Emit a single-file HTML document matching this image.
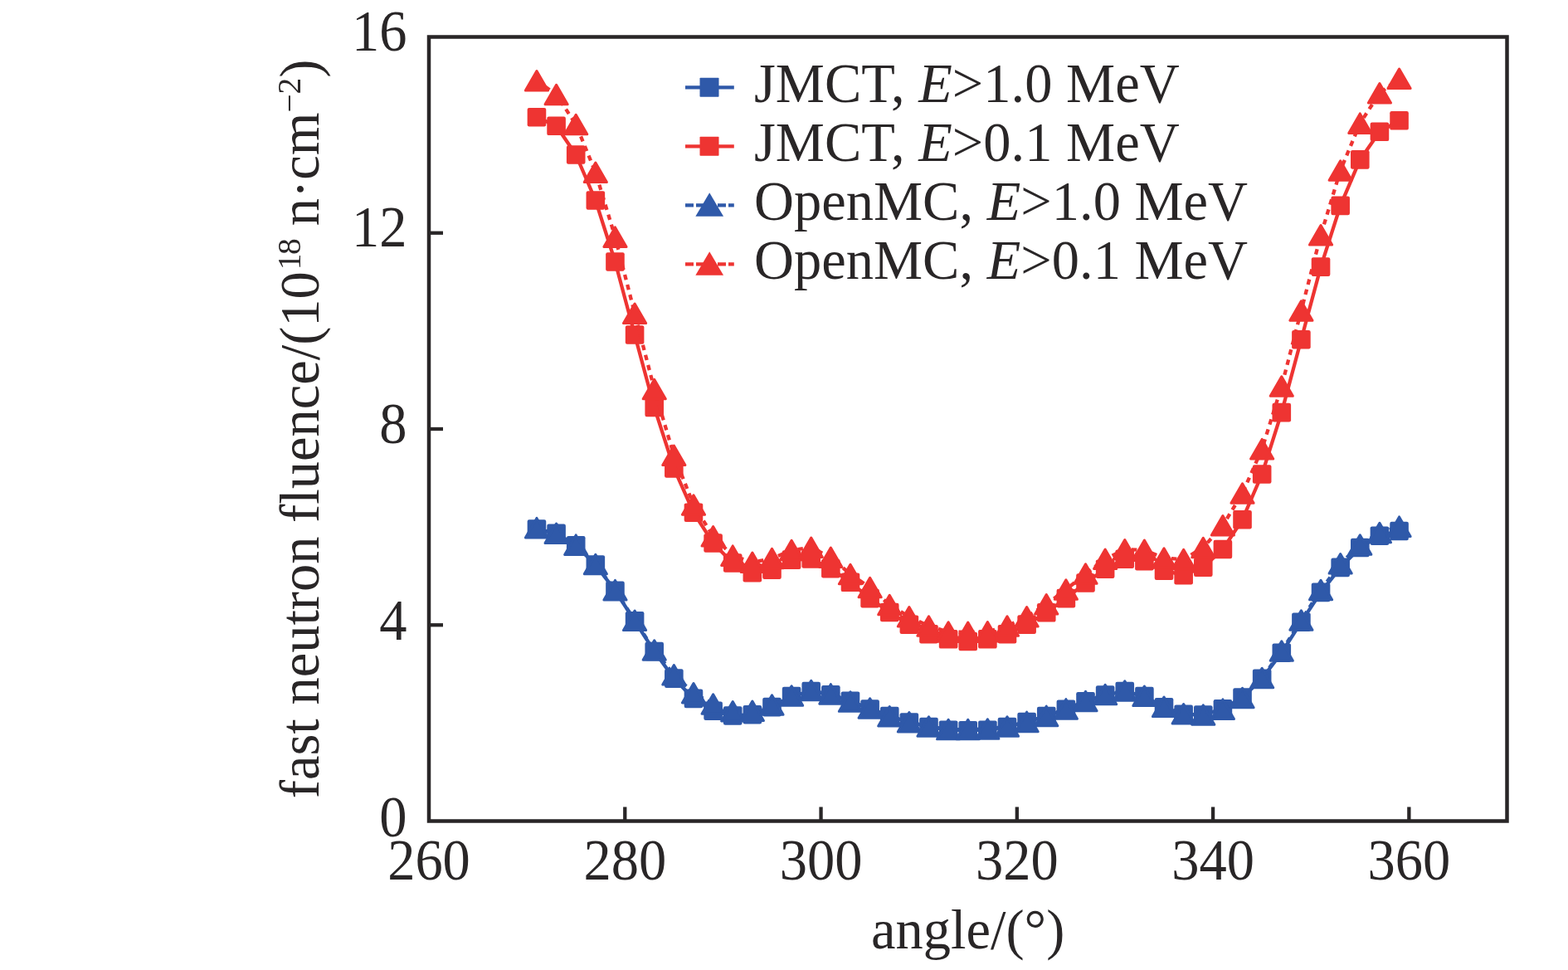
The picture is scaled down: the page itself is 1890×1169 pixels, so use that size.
<!DOCTYPE html>
<html><head><meta charset="utf-8"><title>fast neutron fluence vs angle</title>
<style>
html,body{margin:0;padding:0;background:#fff;}
body{width:1890px;height:1169px;overflow:hidden;}
svg{display:block;}
text{font-family:"Liberation Serif","Times New Roman",serif;fill:#292627;}
</style></head><body>
<svg width="1890" height="1169" viewBox="0 0 1890 1169">
<rect width="1890" height="1169" fill="#fff"/>
<g id="data">
<polyline points="646.95,637.50 670.58,642.80 694.20,657.30 717.83,680.60 741.46,711.80 765.09,748.40 788.71,785.00 812.34,817.60 835.97,841.90 859.60,856.70 883.22,862.50 906.85,861.20 930.48,852.10 954.10,839.00 977.73,833.00 1001.36,837.40 1024.99,844.70 1048.61,854.60 1072.24,863.00 1095.87,870.50 1119.50,876.00 1143.12,879.70 1166.75,880.20 1190.38,879.70 1214.00,876.00 1237.63,870.10 1261.26,863.00 1284.89,854.80 1308.51,845.30 1332.14,837.60 1355.77,833.10 1379.40,839.00 1403.02,852.40 1426.65,860.90 1450.28,861.50 1473.90,854.30 1497.53,840.60 1521.16,817.80 1544.79,786.70 1568.41,749.70 1592.04,713.90 1615.67,683.90 1639.30,660.00 1662.92,645.70 1686.55,640.00" fill="none" stroke="#2f59a9" stroke-width="4.3" stroke-linejoin="round"/>
<rect x="635.65" y="626.20" width="22.60" height="22.60" rx="2.2" fill="#2f59a9"/>
<rect x="659.28" y="631.50" width="22.60" height="22.60" rx="2.2" fill="#2f59a9"/>
<rect x="682.90" y="646.00" width="22.60" height="22.60" rx="2.2" fill="#2f59a9"/>
<rect x="706.53" y="669.30" width="22.60" height="22.60" rx="2.2" fill="#2f59a9"/>
<rect x="730.16" y="700.50" width="22.60" height="22.60" rx="2.2" fill="#2f59a9"/>
<rect x="753.79" y="737.10" width="22.60" height="22.60" rx="2.2" fill="#2f59a9"/>
<rect x="777.41" y="773.70" width="22.60" height="22.60" rx="2.2" fill="#2f59a9"/>
<rect x="801.04" y="806.30" width="22.60" height="22.60" rx="2.2" fill="#2f59a9"/>
<rect x="824.67" y="830.60" width="22.60" height="22.60" rx="2.2" fill="#2f59a9"/>
<rect x="848.30" y="845.40" width="22.60" height="22.60" rx="2.2" fill="#2f59a9"/>
<rect x="871.92" y="851.20" width="22.60" height="22.60" rx="2.2" fill="#2f59a9"/>
<rect x="895.55" y="849.90" width="22.60" height="22.60" rx="2.2" fill="#2f59a9"/>
<rect x="919.18" y="840.80" width="22.60" height="22.60" rx="2.2" fill="#2f59a9"/>
<rect x="942.80" y="827.70" width="22.60" height="22.60" rx="2.2" fill="#2f59a9"/>
<rect x="966.43" y="821.70" width="22.60" height="22.60" rx="2.2" fill="#2f59a9"/>
<rect x="990.06" y="826.10" width="22.60" height="22.60" rx="2.2" fill="#2f59a9"/>
<rect x="1013.69" y="833.40" width="22.60" height="22.60" rx="2.2" fill="#2f59a9"/>
<rect x="1037.31" y="843.30" width="22.60" height="22.60" rx="2.2" fill="#2f59a9"/>
<rect x="1060.94" y="851.70" width="22.60" height="22.60" rx="2.2" fill="#2f59a9"/>
<rect x="1084.57" y="859.20" width="22.60" height="22.60" rx="2.2" fill="#2f59a9"/>
<rect x="1108.20" y="864.70" width="22.60" height="22.60" rx="2.2" fill="#2f59a9"/>
<rect x="1131.82" y="868.40" width="22.60" height="22.60" rx="2.2" fill="#2f59a9"/>
<rect x="1155.45" y="868.90" width="22.60" height="22.60" rx="2.2" fill="#2f59a9"/>
<rect x="1179.08" y="868.40" width="22.60" height="22.60" rx="2.2" fill="#2f59a9"/>
<rect x="1202.70" y="864.70" width="22.60" height="22.60" rx="2.2" fill="#2f59a9"/>
<rect x="1226.33" y="858.80" width="22.60" height="22.60" rx="2.2" fill="#2f59a9"/>
<rect x="1249.96" y="851.70" width="22.60" height="22.60" rx="2.2" fill="#2f59a9"/>
<rect x="1273.59" y="843.50" width="22.60" height="22.60" rx="2.2" fill="#2f59a9"/>
<rect x="1297.21" y="834.00" width="22.60" height="22.60" rx="2.2" fill="#2f59a9"/>
<rect x="1320.84" y="826.30" width="22.60" height="22.60" rx="2.2" fill="#2f59a9"/>
<rect x="1344.47" y="821.80" width="22.60" height="22.60" rx="2.2" fill="#2f59a9"/>
<rect x="1368.10" y="827.70" width="22.60" height="22.60" rx="2.2" fill="#2f59a9"/>
<rect x="1391.72" y="841.10" width="22.60" height="22.60" rx="2.2" fill="#2f59a9"/>
<rect x="1415.35" y="849.60" width="22.60" height="22.60" rx="2.2" fill="#2f59a9"/>
<rect x="1438.98" y="850.20" width="22.60" height="22.60" rx="2.2" fill="#2f59a9"/>
<rect x="1462.60" y="843.00" width="22.60" height="22.60" rx="2.2" fill="#2f59a9"/>
<rect x="1486.23" y="829.30" width="22.60" height="22.60" rx="2.2" fill="#2f59a9"/>
<rect x="1509.86" y="806.50" width="22.60" height="22.60" rx="2.2" fill="#2f59a9"/>
<rect x="1533.49" y="775.40" width="22.60" height="22.60" rx="2.2" fill="#2f59a9"/>
<rect x="1557.11" y="738.40" width="22.60" height="22.60" rx="2.2" fill="#2f59a9"/>
<rect x="1580.74" y="702.60" width="22.60" height="22.60" rx="2.2" fill="#2f59a9"/>
<rect x="1604.37" y="672.60" width="22.60" height="22.60" rx="2.2" fill="#2f59a9"/>
<rect x="1628.00" y="648.70" width="22.60" height="22.60" rx="2.2" fill="#2f59a9"/>
<rect x="1651.62" y="634.40" width="22.60" height="22.60" rx="2.2" fill="#2f59a9"/>
<rect x="1675.25" y="628.70" width="22.60" height="22.60" rx="2.2" fill="#2f59a9"/>
<polyline points="646.95,141.20 670.58,151.80 694.20,186.50 717.83,241.50 741.46,315.50 765.09,403.50 788.71,491.00 812.34,564.40 835.97,617.70 859.60,654.50 883.22,678.50 906.85,690.10 930.48,686.70 954.10,674.60 977.73,673.40 1001.36,685.20 1024.99,701.80 1048.61,721.10 1072.24,738.00 1095.87,752.70 1119.50,764.20 1143.12,770.30 1166.75,773.00 1190.38,770.30 1214.00,764.20 1237.63,752.60 1261.26,738.30 1284.89,721.10 1308.51,702.50 1332.14,685.70 1355.77,673.70 1379.40,676.20 1403.02,687.70 1426.65,693.10 1450.28,683.70 1473.90,662.00 1497.53,626.20 1521.16,571.50 1544.79,497.10 1568.41,409.20 1592.04,321.60 1615.67,247.90 1639.30,192.40 1662.92,158.80 1686.55,145.30" fill="none" stroke="#ee3432" stroke-width="4.3" stroke-linejoin="round"/>
<rect x="635.65" y="129.90" width="22.60" height="22.60" rx="2.2" fill="#ee3432"/>
<rect x="659.28" y="140.50" width="22.60" height="22.60" rx="2.2" fill="#ee3432"/>
<rect x="682.90" y="175.20" width="22.60" height="22.60" rx="2.2" fill="#ee3432"/>
<rect x="706.53" y="230.20" width="22.60" height="22.60" rx="2.2" fill="#ee3432"/>
<rect x="730.16" y="304.20" width="22.60" height="22.60" rx="2.2" fill="#ee3432"/>
<rect x="753.79" y="392.20" width="22.60" height="22.60" rx="2.2" fill="#ee3432"/>
<rect x="777.41" y="479.70" width="22.60" height="22.60" rx="2.2" fill="#ee3432"/>
<rect x="801.04" y="553.10" width="22.60" height="22.60" rx="2.2" fill="#ee3432"/>
<rect x="824.67" y="606.40" width="22.60" height="22.60" rx="2.2" fill="#ee3432"/>
<rect x="848.30" y="643.20" width="22.60" height="22.60" rx="2.2" fill="#ee3432"/>
<rect x="871.92" y="667.20" width="22.60" height="22.60" rx="2.2" fill="#ee3432"/>
<rect x="895.55" y="678.80" width="22.60" height="22.60" rx="2.2" fill="#ee3432"/>
<rect x="919.18" y="675.40" width="22.60" height="22.60" rx="2.2" fill="#ee3432"/>
<rect x="942.80" y="663.30" width="22.60" height="22.60" rx="2.2" fill="#ee3432"/>
<rect x="966.43" y="662.10" width="22.60" height="22.60" rx="2.2" fill="#ee3432"/>
<rect x="990.06" y="673.90" width="22.60" height="22.60" rx="2.2" fill="#ee3432"/>
<rect x="1013.69" y="690.50" width="22.60" height="22.60" rx="2.2" fill="#ee3432"/>
<rect x="1037.31" y="709.80" width="22.60" height="22.60" rx="2.2" fill="#ee3432"/>
<rect x="1060.94" y="726.70" width="22.60" height="22.60" rx="2.2" fill="#ee3432"/>
<rect x="1084.57" y="741.40" width="22.60" height="22.60" rx="2.2" fill="#ee3432"/>
<rect x="1108.20" y="752.90" width="22.60" height="22.60" rx="2.2" fill="#ee3432"/>
<rect x="1131.82" y="759.00" width="22.60" height="22.60" rx="2.2" fill="#ee3432"/>
<rect x="1155.45" y="761.70" width="22.60" height="22.60" rx="2.2" fill="#ee3432"/>
<rect x="1179.08" y="759.00" width="22.60" height="22.60" rx="2.2" fill="#ee3432"/>
<rect x="1202.70" y="752.90" width="22.60" height="22.60" rx="2.2" fill="#ee3432"/>
<rect x="1226.33" y="741.30" width="22.60" height="22.60" rx="2.2" fill="#ee3432"/>
<rect x="1249.96" y="727.00" width="22.60" height="22.60" rx="2.2" fill="#ee3432"/>
<rect x="1273.59" y="709.80" width="22.60" height="22.60" rx="2.2" fill="#ee3432"/>
<rect x="1297.21" y="691.20" width="22.60" height="22.60" rx="2.2" fill="#ee3432"/>
<rect x="1320.84" y="674.40" width="22.60" height="22.60" rx="2.2" fill="#ee3432"/>
<rect x="1344.47" y="662.40" width="22.60" height="22.60" rx="2.2" fill="#ee3432"/>
<rect x="1368.10" y="664.90" width="22.60" height="22.60" rx="2.2" fill="#ee3432"/>
<rect x="1391.72" y="676.40" width="22.60" height="22.60" rx="2.2" fill="#ee3432"/>
<rect x="1415.35" y="681.80" width="22.60" height="22.60" rx="2.2" fill="#ee3432"/>
<rect x="1438.98" y="672.40" width="22.60" height="22.60" rx="2.2" fill="#ee3432"/>
<rect x="1462.60" y="650.70" width="22.60" height="22.60" rx="2.2" fill="#ee3432"/>
<rect x="1486.23" y="614.90" width="22.60" height="22.60" rx="2.2" fill="#ee3432"/>
<rect x="1509.86" y="560.20" width="22.60" height="22.60" rx="2.2" fill="#ee3432"/>
<rect x="1533.49" y="485.80" width="22.60" height="22.60" rx="2.2" fill="#ee3432"/>
<rect x="1557.11" y="397.90" width="22.60" height="22.60" rx="2.2" fill="#ee3432"/>
<rect x="1580.74" y="310.30" width="22.60" height="22.60" rx="2.2" fill="#ee3432"/>
<rect x="1604.37" y="236.60" width="22.60" height="22.60" rx="2.2" fill="#ee3432"/>
<rect x="1628.00" y="181.10" width="22.60" height="22.60" rx="2.2" fill="#ee3432"/>
<rect x="1651.62" y="147.50" width="22.60" height="22.60" rx="2.2" fill="#ee3432"/>
<rect x="1675.25" y="134.00" width="22.60" height="22.60" rx="2.2" fill="#ee3432"/>
<polyline points="646.95,636.15 670.58,642.85 694.20,656.65 717.83,680.00 741.46,711.15 765.09,747.85 788.71,783.45 812.34,813.35 835.97,835.20 859.60,848.50 883.22,857.30 906.85,856.80 930.48,849.50 954.10,838.50 977.73,832.10 1001.36,836.40 1024.99,845.60 1048.61,853.50 1072.24,863.20 1095.87,870.20 1119.50,875.50 1143.12,879.10 1166.75,879.10 1190.38,878.50 1214.00,875.50 1237.63,869.90 1261.26,862.90 1284.89,854.40 1308.51,845.10 1332.14,837.10 1355.77,832.60 1379.40,838.85 1403.02,851.85 1426.65,860.25 1450.28,861.50 1473.90,854.65 1497.53,840.95 1521.16,816.95 1544.79,784.50 1568.41,747.55 1592.04,710.95 1615.67,679.35 1639.30,656.55 1662.92,641.95 1686.55,634.65" fill="none" stroke="#2f59a9" stroke-width="4.3" stroke-linejoin="round" stroke-dasharray="6.5 6"/>
<polygon points="646.95,624.40 633.38,647.90 660.52,647.90" fill="#2f59a9" stroke="#2f59a9" stroke-width="3.0" stroke-linejoin="round"/>
<polygon points="670.58,631.10 657.01,654.60 684.15,654.60" fill="#2f59a9" stroke="#2f59a9" stroke-width="3.0" stroke-linejoin="round"/>
<polygon points="694.20,644.90 680.64,668.40 707.77,668.40" fill="#2f59a9" stroke="#2f59a9" stroke-width="3.0" stroke-linejoin="round"/>
<polygon points="717.83,668.25 704.26,691.75 731.40,691.75" fill="#2f59a9" stroke="#2f59a9" stroke-width="3.0" stroke-linejoin="round"/>
<polygon points="741.46,699.40 727.89,722.90 755.03,722.90" fill="#2f59a9" stroke="#2f59a9" stroke-width="3.0" stroke-linejoin="round"/>
<polygon points="765.09,736.10 751.52,759.60 778.65,759.60" fill="#2f59a9" stroke="#2f59a9" stroke-width="3.0" stroke-linejoin="round"/>
<polygon points="788.71,771.70 775.15,795.20 802.28,795.20" fill="#2f59a9" stroke="#2f59a9" stroke-width="3.0" stroke-linejoin="round"/>
<polygon points="812.34,801.60 798.77,825.10 825.91,825.10" fill="#2f59a9" stroke="#2f59a9" stroke-width="3.0" stroke-linejoin="round"/>
<polygon points="835.97,823.45 822.40,846.95 849.54,846.95" fill="#2f59a9" stroke="#2f59a9" stroke-width="3.0" stroke-linejoin="round"/>
<polygon points="859.60,836.75 846.03,860.25 873.16,860.25" fill="#2f59a9" stroke="#2f59a9" stroke-width="3.0" stroke-linejoin="round"/>
<polygon points="883.22,845.55 869.65,869.05 896.79,869.05" fill="#2f59a9" stroke="#2f59a9" stroke-width="3.0" stroke-linejoin="round"/>
<polygon points="906.85,845.05 893.28,868.55 920.42,868.55" fill="#2f59a9" stroke="#2f59a9" stroke-width="3.0" stroke-linejoin="round"/>
<polygon points="930.48,837.75 916.91,861.25 944.05,861.25" fill="#2f59a9" stroke="#2f59a9" stroke-width="3.0" stroke-linejoin="round"/>
<polygon points="954.10,826.75 940.54,850.25 967.67,850.25" fill="#2f59a9" stroke="#2f59a9" stroke-width="3.0" stroke-linejoin="round"/>
<polygon points="977.73,820.35 964.16,843.85 991.30,843.85" fill="#2f59a9" stroke="#2f59a9" stroke-width="3.0" stroke-linejoin="round"/>
<polygon points="1001.36,824.65 987.79,848.15 1014.93,848.15" fill="#2f59a9" stroke="#2f59a9" stroke-width="3.0" stroke-linejoin="round"/>
<polygon points="1024.99,833.85 1011.42,857.35 1038.55,857.35" fill="#2f59a9" stroke="#2f59a9" stroke-width="3.0" stroke-linejoin="round"/>
<polygon points="1048.61,841.75 1035.05,865.25 1062.18,865.25" fill="#2f59a9" stroke="#2f59a9" stroke-width="3.0" stroke-linejoin="round"/>
<polygon points="1072.24,851.45 1058.67,874.95 1085.81,874.95" fill="#2f59a9" stroke="#2f59a9" stroke-width="3.0" stroke-linejoin="round"/>
<polygon points="1095.87,858.45 1082.30,881.95 1109.44,881.95" fill="#2f59a9" stroke="#2f59a9" stroke-width="3.0" stroke-linejoin="round"/>
<polygon points="1119.50,863.75 1105.93,887.25 1133.06,887.25" fill="#2f59a9" stroke="#2f59a9" stroke-width="3.0" stroke-linejoin="round"/>
<polygon points="1143.12,867.35 1129.55,890.85 1156.69,890.85" fill="#2f59a9" stroke="#2f59a9" stroke-width="3.0" stroke-linejoin="round"/>
<polygon points="1166.75,867.35 1153.18,890.85 1180.32,890.85" fill="#2f59a9" stroke="#2f59a9" stroke-width="3.0" stroke-linejoin="round"/>
<polygon points="1190.38,866.75 1176.81,890.25 1203.95,890.25" fill="#2f59a9" stroke="#2f59a9" stroke-width="3.0" stroke-linejoin="round"/>
<polygon points="1214.00,863.75 1200.44,887.25 1227.57,887.25" fill="#2f59a9" stroke="#2f59a9" stroke-width="3.0" stroke-linejoin="round"/>
<polygon points="1237.63,858.15 1224.06,881.65 1251.20,881.65" fill="#2f59a9" stroke="#2f59a9" stroke-width="3.0" stroke-linejoin="round"/>
<polygon points="1261.26,851.15 1247.69,874.65 1274.83,874.65" fill="#2f59a9" stroke="#2f59a9" stroke-width="3.0" stroke-linejoin="round"/>
<polygon points="1284.89,842.65 1271.32,866.15 1298.45,866.15" fill="#2f59a9" stroke="#2f59a9" stroke-width="3.0" stroke-linejoin="round"/>
<polygon points="1308.51,833.35 1294.95,856.85 1322.08,856.85" fill="#2f59a9" stroke="#2f59a9" stroke-width="3.0" stroke-linejoin="round"/>
<polygon points="1332.14,825.35 1318.57,848.85 1345.71,848.85" fill="#2f59a9" stroke="#2f59a9" stroke-width="3.0" stroke-linejoin="round"/>
<polygon points="1355.77,820.85 1342.20,844.35 1369.34,844.35" fill="#2f59a9" stroke="#2f59a9" stroke-width="3.0" stroke-linejoin="round"/>
<polygon points="1379.40,827.10 1365.83,850.60 1392.96,850.60" fill="#2f59a9" stroke="#2f59a9" stroke-width="3.0" stroke-linejoin="round"/>
<polygon points="1403.02,840.10 1389.45,863.60 1416.59,863.60" fill="#2f59a9" stroke="#2f59a9" stroke-width="3.0" stroke-linejoin="round"/>
<polygon points="1426.65,848.50 1413.08,872.00 1440.22,872.00" fill="#2f59a9" stroke="#2f59a9" stroke-width="3.0" stroke-linejoin="round"/>
<polygon points="1450.28,849.75 1436.71,873.25 1463.85,873.25" fill="#2f59a9" stroke="#2f59a9" stroke-width="3.0" stroke-linejoin="round"/>
<polygon points="1473.90,842.90 1460.34,866.40 1487.47,866.40" fill="#2f59a9" stroke="#2f59a9" stroke-width="3.0" stroke-linejoin="round"/>
<polygon points="1497.53,829.20 1483.96,852.70 1511.10,852.70" fill="#2f59a9" stroke="#2f59a9" stroke-width="3.0" stroke-linejoin="round"/>
<polygon points="1521.16,805.20 1507.59,828.70 1534.73,828.70" fill="#2f59a9" stroke="#2f59a9" stroke-width="3.0" stroke-linejoin="round"/>
<polygon points="1544.79,772.75 1531.22,796.25 1558.35,796.25" fill="#2f59a9" stroke="#2f59a9" stroke-width="3.0" stroke-linejoin="round"/>
<polygon points="1568.41,735.80 1554.85,759.30 1581.98,759.30" fill="#2f59a9" stroke="#2f59a9" stroke-width="3.0" stroke-linejoin="round"/>
<polygon points="1592.04,699.20 1578.47,722.70 1605.61,722.70" fill="#2f59a9" stroke="#2f59a9" stroke-width="3.0" stroke-linejoin="round"/>
<polygon points="1615.67,667.60 1602.10,691.10 1629.24,691.10" fill="#2f59a9" stroke="#2f59a9" stroke-width="3.0" stroke-linejoin="round"/>
<polygon points="1639.30,644.80 1625.73,668.30 1652.86,668.30" fill="#2f59a9" stroke="#2f59a9" stroke-width="3.0" stroke-linejoin="round"/>
<polygon points="1662.92,630.20 1649.35,653.70 1676.49,653.70" fill="#2f59a9" stroke="#2f59a9" stroke-width="3.0" stroke-linejoin="round"/>
<polygon points="1686.55,622.90 1672.98,646.40 1700.12,646.40" fill="#2f59a9" stroke="#2f59a9" stroke-width="3.0" stroke-linejoin="round"/>
<polyline points="646.95,97.35 670.58,114.05 694.20,149.95 717.83,207.85 741.46,285.65 765.09,377.75 788.71,469.05 812.34,548.85 835.97,608.45 859.60,646.25 883.22,669.65 906.85,677.85 930.48,673.05 954.10,663.05 977.73,659.75 1001.36,671.75 1024.99,692.05 1048.61,707.95 1072.24,729.05 1095.87,743.25 1119.50,754.55 1143.12,761.45 1166.75,761.75 1190.38,761.35 1214.00,754.55 1237.63,743.35 1261.26,728.25 1284.89,710.55 1308.51,691.55 1332.14,673.75 1355.77,662.25 1379.40,662.85 1403.02,672.55 1426.65,674.05 1450.28,659.95 1473.90,633.25 1497.53,594.55 1521.16,541.15 1544.79,465.55 1568.41,374.55 1592.04,283.35 1615.67,205.45 1639.30,148.65 1662.92,112.25 1686.55,94.85" fill="none" stroke="#ee3432" stroke-width="4.3" stroke-linejoin="round" stroke-dasharray="6.5 6"/>
<polygon points="646.95,85.60 633.38,109.10 660.52,109.10" fill="#ee3432" stroke="#ee3432" stroke-width="3.0" stroke-linejoin="round"/>
<polygon points="670.58,102.30 657.01,125.80 684.15,125.80" fill="#ee3432" stroke="#ee3432" stroke-width="3.0" stroke-linejoin="round"/>
<polygon points="694.20,138.20 680.64,161.70 707.77,161.70" fill="#ee3432" stroke="#ee3432" stroke-width="3.0" stroke-linejoin="round"/>
<polygon points="717.83,196.10 704.26,219.60 731.40,219.60" fill="#ee3432" stroke="#ee3432" stroke-width="3.0" stroke-linejoin="round"/>
<polygon points="741.46,273.90 727.89,297.40 755.03,297.40" fill="#ee3432" stroke="#ee3432" stroke-width="3.0" stroke-linejoin="round"/>
<polygon points="765.09,366.00 751.52,389.50 778.65,389.50" fill="#ee3432" stroke="#ee3432" stroke-width="3.0" stroke-linejoin="round"/>
<polygon points="788.71,457.30 775.15,480.80 802.28,480.80" fill="#ee3432" stroke="#ee3432" stroke-width="3.0" stroke-linejoin="round"/>
<polygon points="812.34,537.10 798.77,560.60 825.91,560.60" fill="#ee3432" stroke="#ee3432" stroke-width="3.0" stroke-linejoin="round"/>
<polygon points="835.97,596.70 822.40,620.20 849.54,620.20" fill="#ee3432" stroke="#ee3432" stroke-width="3.0" stroke-linejoin="round"/>
<polygon points="859.60,634.50 846.03,658.00 873.16,658.00" fill="#ee3432" stroke="#ee3432" stroke-width="3.0" stroke-linejoin="round"/>
<polygon points="883.22,657.90 869.65,681.40 896.79,681.40" fill="#ee3432" stroke="#ee3432" stroke-width="3.0" stroke-linejoin="round"/>
<polygon points="906.85,666.10 893.28,689.60 920.42,689.60" fill="#ee3432" stroke="#ee3432" stroke-width="3.0" stroke-linejoin="round"/>
<polygon points="930.48,661.30 916.91,684.80 944.05,684.80" fill="#ee3432" stroke="#ee3432" stroke-width="3.0" stroke-linejoin="round"/>
<polygon points="954.10,651.30 940.54,674.80 967.67,674.80" fill="#ee3432" stroke="#ee3432" stroke-width="3.0" stroke-linejoin="round"/>
<polygon points="977.73,648.00 964.16,671.50 991.30,671.50" fill="#ee3432" stroke="#ee3432" stroke-width="3.0" stroke-linejoin="round"/>
<polygon points="1001.36,660.00 987.79,683.50 1014.93,683.50" fill="#ee3432" stroke="#ee3432" stroke-width="3.0" stroke-linejoin="round"/>
<polygon points="1024.99,680.30 1011.42,703.80 1038.55,703.80" fill="#ee3432" stroke="#ee3432" stroke-width="3.0" stroke-linejoin="round"/>
<polygon points="1048.61,696.20 1035.05,719.70 1062.18,719.70" fill="#ee3432" stroke="#ee3432" stroke-width="3.0" stroke-linejoin="round"/>
<polygon points="1072.24,717.30 1058.67,740.80 1085.81,740.80" fill="#ee3432" stroke="#ee3432" stroke-width="3.0" stroke-linejoin="round"/>
<polygon points="1095.87,731.50 1082.30,755.00 1109.44,755.00" fill="#ee3432" stroke="#ee3432" stroke-width="3.0" stroke-linejoin="round"/>
<polygon points="1119.50,742.80 1105.93,766.30 1133.06,766.30" fill="#ee3432" stroke="#ee3432" stroke-width="3.0" stroke-linejoin="round"/>
<polygon points="1143.12,749.70 1129.55,773.20 1156.69,773.20" fill="#ee3432" stroke="#ee3432" stroke-width="3.0" stroke-linejoin="round"/>
<polygon points="1166.75,750.00 1153.18,773.50 1180.32,773.50" fill="#ee3432" stroke="#ee3432" stroke-width="3.0" stroke-linejoin="round"/>
<polygon points="1190.38,749.60 1176.81,773.10 1203.95,773.10" fill="#ee3432" stroke="#ee3432" stroke-width="3.0" stroke-linejoin="round"/>
<polygon points="1214.00,742.80 1200.44,766.30 1227.57,766.30" fill="#ee3432" stroke="#ee3432" stroke-width="3.0" stroke-linejoin="round"/>
<polygon points="1237.63,731.60 1224.06,755.10 1251.20,755.10" fill="#ee3432" stroke="#ee3432" stroke-width="3.0" stroke-linejoin="round"/>
<polygon points="1261.26,716.50 1247.69,740.00 1274.83,740.00" fill="#ee3432" stroke="#ee3432" stroke-width="3.0" stroke-linejoin="round"/>
<polygon points="1284.89,698.80 1271.32,722.30 1298.45,722.30" fill="#ee3432" stroke="#ee3432" stroke-width="3.0" stroke-linejoin="round"/>
<polygon points="1308.51,679.80 1294.95,703.30 1322.08,703.30" fill="#ee3432" stroke="#ee3432" stroke-width="3.0" stroke-linejoin="round"/>
<polygon points="1332.14,662.00 1318.57,685.50 1345.71,685.50" fill="#ee3432" stroke="#ee3432" stroke-width="3.0" stroke-linejoin="round"/>
<polygon points="1355.77,650.50 1342.20,674.00 1369.34,674.00" fill="#ee3432" stroke="#ee3432" stroke-width="3.0" stroke-linejoin="round"/>
<polygon points="1379.40,651.10 1365.83,674.60 1392.96,674.60" fill="#ee3432" stroke="#ee3432" stroke-width="3.0" stroke-linejoin="round"/>
<polygon points="1403.02,660.80 1389.45,684.30 1416.59,684.30" fill="#ee3432" stroke="#ee3432" stroke-width="3.0" stroke-linejoin="round"/>
<polygon points="1426.65,662.30 1413.08,685.80 1440.22,685.80" fill="#ee3432" stroke="#ee3432" stroke-width="3.0" stroke-linejoin="round"/>
<polygon points="1450.28,648.20 1436.71,671.70 1463.85,671.70" fill="#ee3432" stroke="#ee3432" stroke-width="3.0" stroke-linejoin="round"/>
<polygon points="1473.90,621.50 1460.34,645.00 1487.47,645.00" fill="#ee3432" stroke="#ee3432" stroke-width="3.0" stroke-linejoin="round"/>
<polygon points="1497.53,582.80 1483.96,606.30 1511.10,606.30" fill="#ee3432" stroke="#ee3432" stroke-width="3.0" stroke-linejoin="round"/>
<polygon points="1521.16,529.40 1507.59,552.90 1534.73,552.90" fill="#ee3432" stroke="#ee3432" stroke-width="3.0" stroke-linejoin="round"/>
<polygon points="1544.79,453.80 1531.22,477.30 1558.35,477.30" fill="#ee3432" stroke="#ee3432" stroke-width="3.0" stroke-linejoin="round"/>
<polygon points="1568.41,362.80 1554.85,386.30 1581.98,386.30" fill="#ee3432" stroke="#ee3432" stroke-width="3.0" stroke-linejoin="round"/>
<polygon points="1592.04,271.60 1578.47,295.10 1605.61,295.10" fill="#ee3432" stroke="#ee3432" stroke-width="3.0" stroke-linejoin="round"/>
<polygon points="1615.67,193.70 1602.10,217.20 1629.24,217.20" fill="#ee3432" stroke="#ee3432" stroke-width="3.0" stroke-linejoin="round"/>
<polygon points="1639.30,136.90 1625.73,160.40 1652.86,160.40" fill="#ee3432" stroke="#ee3432" stroke-width="3.0" stroke-linejoin="round"/>
<polygon points="1662.92,100.50 1649.35,124.00 1676.49,124.00" fill="#ee3432" stroke="#ee3432" stroke-width="3.0" stroke-linejoin="round"/>
<polygon points="1686.55,83.10 1672.98,106.60 1700.12,106.60" fill="#ee3432" stroke="#ee3432" stroke-width="3.0" stroke-linejoin="round"/>
</g>
<rect x="517.00" y="44.50" width="1299.50" height="945.00" fill="none" stroke="#292627" stroke-width="4.5"/>
<line x1="753.27" y1="989.50" x2="753.27" y2="972.50" stroke="#292627" stroke-width="4.3"/>
<line x1="989.55" y1="989.50" x2="989.55" y2="972.50" stroke="#292627" stroke-width="4.3"/>
<line x1="1225.82" y1="989.50" x2="1225.82" y2="972.50" stroke="#292627" stroke-width="4.3"/>
<line x1="1462.09" y1="989.50" x2="1462.09" y2="972.50" stroke="#292627" stroke-width="4.3"/>
<line x1="1698.36" y1="989.50" x2="1698.36" y2="972.50" stroke="#292627" stroke-width="4.3"/>
<line x1="517.00" y1="753.25" x2="534.00" y2="753.25" stroke="#292627" stroke-width="4.3"/>
<line x1="517.00" y1="517.00" x2="534.00" y2="517.00" stroke="#292627" stroke-width="4.3"/>
<line x1="517.00" y1="280.75" x2="534.00" y2="280.75" stroke="#292627" stroke-width="4.3"/>
<g font-size="67.5">
<text transform="translate(517.00,1060) scale(0.964,1)" font-size="69" text-anchor="middle">260</text>
<text transform="translate(753.27,1060) scale(0.964,1)" font-size="69" text-anchor="middle">280</text>
<text transform="translate(989.55,1060) scale(0.964,1)" font-size="69" text-anchor="middle">300</text>
<text transform="translate(1225.82,1060) scale(0.964,1)" font-size="69" text-anchor="middle">320</text>
<text transform="translate(1462.09,1060) scale(0.964,1)" font-size="69" text-anchor="middle">340</text>
<text transform="translate(1698.36,1060) scale(0.964,1)" font-size="69" text-anchor="middle">360</text>
<text transform="translate(490.5,1007.80) scale(0.964,1)" font-size="69" text-anchor="end">0</text>
<text transform="translate(490.5,770.75) scale(0.964,1)" font-size="69" text-anchor="end">4</text>
<text transform="translate(490.5,534.00) scale(0.964,1)" font-size="69" text-anchor="end">8</text>
<text transform="translate(490.5,296.85) scale(0.964,1)" font-size="69" text-anchor="end">12</text>
<text transform="translate(490.5,61.00) scale(0.964,1)" font-size="69" text-anchor="end">16</text>
<line x1="826" y1="105.3" x2="884.8" y2="105.3" stroke="#2f59a9" stroke-width="4.3"/>
<rect x="843.50" y="93.80" width="23.00" height="23.00" rx="0.8" fill="#2f59a9"/>
<text transform="translate(909,122.90) scale(0.985,1)">JMCT, <tspan font-style="italic">E</tspan>&gt;1.0 MeV</text>
<line x1="826" y1="176.3" x2="884.8" y2="176.3" stroke="#ee3432" stroke-width="4.3"/>
<rect x="843.50" y="164.80" width="23.00" height="23.00" rx="0.8" fill="#ee3432"/>
<text transform="translate(909,193.90) scale(0.985,1)">JMCT, <tspan font-style="italic">E</tspan>&gt;0.1 MeV</text>
<line x1="826" y1="247.3" x2="884.8" y2="247.3" stroke="#2f59a9" stroke-width="4.3" stroke-dasharray="10 3"/>
<polygon points="855.20,232.15 838.35,260.85 872.05,260.85" fill="#2f59a9"/>
<text transform="translate(909,264.90) scale(0.985,1)">OpenMC, <tspan font-style="italic">E</tspan>&gt;1.0 MeV</text>
<line x1="826" y1="318.3" x2="884.8" y2="318.3" stroke="#ee3432" stroke-width="4.3" stroke-dasharray="10 3"/>
<polygon points="855.20,303.15 838.35,331.85 872.05,331.85" fill="#ee3432"/>
<text transform="translate(909,335.90) scale(0.985,1)">OpenMC, <tspan font-style="italic">E</tspan>&gt;0.1 MeV</text>
<text transform="translate(1166.7,1143) scale(0.985,1)" text-anchor="middle">angle/(°)</text>
<text transform="translate(383.6,962.2) rotate(-90) scale(0.985,1)" text-anchor="start" x="0">fast neutron fluence/(10<tspan font-size="40" dx="2" letter-spacing="-1.5" dy="-21.5">18</tspan><tspan dy="21.5"> n·cm</tspan><tspan font-size="40" dy="-21.5">−2</tspan><tspan dy="21.5">)</tspan></text>
</g>
</svg>
</body></html>
